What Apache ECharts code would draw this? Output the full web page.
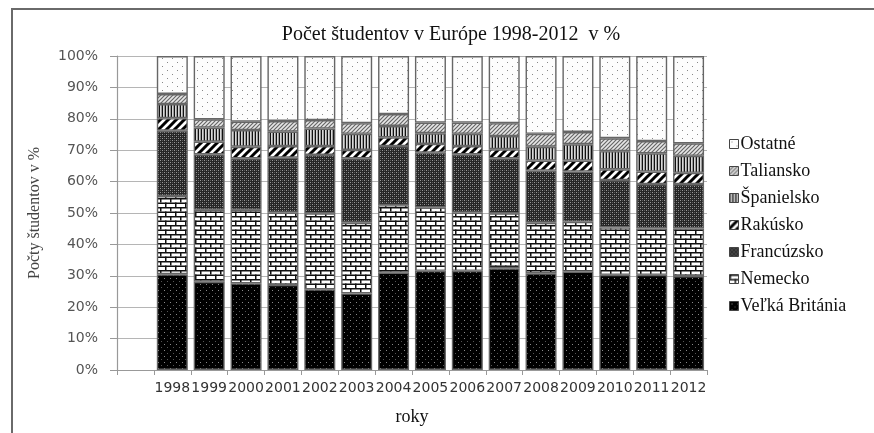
<!DOCTYPE html>
<html>
<head>
<meta charset="utf-8">
<script src="https://cdn.jsdelivr.net/npm/echarts@6/dist/echarts.min.js"></script>
<style>html,body{margin:0;padding:0;background:#fff}#c{width:874px;height:433px}</style>
</head>
<body>
<div id="c"></div>
<script>
// ---- data ----
const years = ['1998','1999','2000','2001','2002','2003','2004','2005','2006','2007','2008','2009','2010','2011','2012'];
const seriesNames = ['Veľká Británia','Nemecko','Francúzsko','Rakúsko','Španielsko','Taliansko','Ostatné'];
const velkaBritania = [30.5,28.1,27.6,27.1,25.7,24.4,31.0,31.6,31.6,32.4,30.8,31.3,30.3,30.3,29.9];
const nemecko      = [24.9,22.9,23.4,23.0,24.2,22.5,21.5,20.2,18.5,17.5,16.1,15.9,15.1,14.8,15.2];
const francuzsko   = [20.8,17.7,16.4,17.5,18.6,20.5,18.8,17.4,18.6,17.5,16.6,16.0,15.1,14.1,14.1];
const rakusko      = [4.0,4.0,3.7,3.7,2.8,2.7,2.8,2.8,2.6,2.9,3.2,3.5,3.4,4.0,3.6];
const spanielsko   = [4.5,4.5,5.3,4.6,5.6,5.1,3.6,3.4,3.9,4.2,4.4,5.2,5.8,5.8,5.4];
const taliansko    = [3.2,2.6,2.7,3.4,2.7,3.4,3.8,3.4,3.6,4.1,4.1,3.9,4.1,3.9,4.0];
const ostatne      = [12.1,20.2,20.9,20.7,20.4,21.4,18.5,21.2,21.2,21.4,24.8,24.2,26.2,27.1,27.8];
const yTicks = [0,10,20,30,40,50,60,70,80,90,100];

// ---- patterns ----
function mk(w,h,draw){const c=document.createElement('canvas');c.width=w;c.height=h;const x=c.getContext('2d');draw(x,w,h);return {image:c,repeat:'repeat'};}
const patVB = mk(6,6,(x,w,h)=>{x.fillStyle='#000';x.fillRect(0,0,w,h);x.fillStyle='#8a8a8a';x.fillRect(2,2,1,1);x.fillStyle='#555';x.fillRect(5,5,1,1);});
const patDE = mk(10,9,(x,w,h)=>{x.fillStyle='#fff';x.fillRect(0,0,w,h);x.fillStyle='#111';
  x.fillRect(0,0,w,1.5);x.fillRect(0,4.5,w,1.5);x.fillRect(0,0,1.5,4.5);x.fillRect(5,4.5,1.5,4.5);});
const patFR = mk(4,4,(x,w,h)=>{x.fillStyle='#262626';x.fillRect(0,0,w,h);x.fillStyle='#999';x.fillRect(0,0,1,1);x.fillRect(2,2,1,1);x.fillStyle='#5a5a5a';x.fillRect(2,0,1,1);x.fillRect(0,2,1,1);});
const patAT = mk(8,8,(x,w,h)=>{x.fillStyle='#fff';x.fillRect(0,0,w,h);x.strokeStyle='#000';x.lineWidth=3;x.beginPath();
  x.moveTo(0,h);x.lineTo(w,0);x.moveTo(-2,2);x.lineTo(2,-2);x.moveTo(w-2,h+2);x.lineTo(w+2,h-2);x.stroke();});
const patES = mk(3,2,(x,w,h)=>{x.fillStyle='#9a9a9a';x.fillRect(0,0,w,h);x.fillStyle='#111';x.fillRect(0,0,1,h);x.fillStyle='#d8d8d8';x.fillRect(1,0,1,h);});
const patIT = mk(4,4,(x,w,h)=>{x.fillStyle='#e6e6e6';x.fillRect(0,0,w,h);x.strokeStyle='#666';x.lineWidth=1.2;x.beginPath();
  x.moveTo(0,h);x.lineTo(w,0);x.moveTo(-1,1);x.lineTo(1,-1);x.moveTo(w-1,h+1);x.lineTo(w+1,h-1);x.stroke();});
const patOT = mk(10,8,(x,w,h)=>{x.fillStyle='#fdfdfd';x.fillRect(0,0,w,h);x.fillStyle='#888';x.fillRect(2,2,1,1);x.fillRect(7,6,1,1);});
const patterns = [patVB,patDE,patFR,patAT,patES,patIT,patOT];
const values = [velkaBritania,nemecko,francuzsko,rakusko,spanielsko,taliansko,ostatne];

const categories = [''].concat(years);
const series = seriesNames.map((n,i)=>({
  name:n, type:'bar', stack:'total', barWidth:31,
  data:[null].concat(values[i]),
  itemStyle:{color:patterns[i], borderColor:'#666', borderWidth:1.4},
  emphasis:{disabled:true}
}));

const chart = echarts.init(document.getElementById('c'),null,{renderer:'canvas'});
chart.setOption({
  animation:false,
  backgroundColor:'#fff',
  title:{text:'Počet študentov v Európe 1998-2012  v %',left:446,top:20,textAlign:'center',
    textStyle:{fontFamily:'Liberation Serif',fontSize:20,fontWeight:'normal',color:'#111'}},
  graphic:[{type:'rect',shape:{x:12,y:9,width:900,height:500},style:{fill:'none',stroke:'#6a6a6a',lineWidth:2},silent:true}],
  legend:{orient:'vertical',left:724,top:130,itemWidth:9,itemHeight:9,itemGap:9,icon:'rect',
    data:seriesNames.slice().reverse(),
    itemStyle:{borderColor:'#444',borderWidth:1},
    textStyle:{fontFamily:'Liberation Serif',fontSize:18,color:'#111',padding:[0,0,0,-3],lineHeight:18}},
  grid:{left:117,right:167,top:56,bottom:63,containLabel:false},
  xAxis:{type:'category',data:categories,
    name:'roky',nameLocation:'middle',nameGap:38,
    nameTextStyle:{fontFamily:'Liberation Serif',fontSize:18,color:'#111'},
    axisLine:{lineStyle:{color:'#999',width:1.2}},
    axisTick:{show:true,length:5,lineStyle:{color:'#999'}},
    axisLabel:{interval:0,margin:11,fontFamily:'DejaVu Sans',fontSize:14,color:'#333'}},
  yAxis:{type:'value',min:0,max:100,interval:10,
    name:'Počty študentov v %',nameLocation:'middle',nameGap:74,
    nameTextStyle:{fontFamily:'Liberation Serif',fontSize:16,color:'#444'},
    axisLine:{show:true,lineStyle:{color:'#999',width:1.2}},
    axisTick:{show:true,length:7,lineStyle:{color:'#999'}},
    axisLabel:{margin:19,formatter:v=>yTicks.includes(v)?v+'%':'',fontFamily:'DejaVu Sans',fontSize:14,color:'#555'},
    splitLine:{lineStyle:{color:'#b5b5b5',width:1}}},
  series:series
});
</script>
</body>
</html>
